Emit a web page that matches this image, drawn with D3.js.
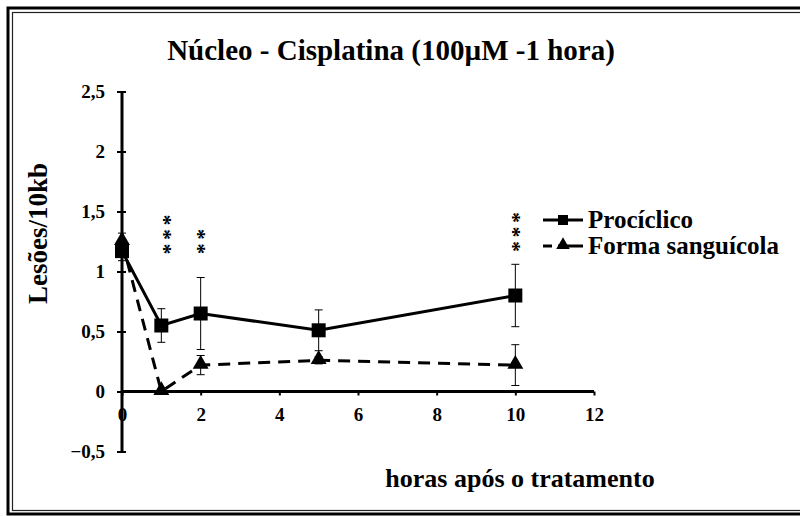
<!DOCTYPE html>
<html>
<head>
<meta charset="utf-8">
<script src="https://cdn.jsdelivr.net/npm/d3@7"></script>
<style>
  html, body { margin: 0; padding: 0; background: #fff; }
  svg { display: block; }
  text { font-family: "Liberation Serif", "Times New Roman", serif; font-weight: bold; fill: #000; }
</style>
</head>
<body>
<svg id="chart" width="800" height="516"></svg>
<script>
// Hours after treatment
const hours = [0, 1, 2, 5, 10];

// Procíclico: mean lesions/10kb and error
const prociclico = [1.17, 0.55, 0.65, 0.51, 0.80];
const prociclicoErr = [0.08, 0.14, 0.30, 0.17, 0.26];

// Forma sanguícola: mean lesions/10kb and error
const sanguicola = [1.25, 0.00, 0.22, 0.26, 0.22];
const sanguicolaErr = [0.07, 0.00, 0.08, 0.03, 0.17];

// Significance marks: time point, number of asterisks, centre of the stack (lesions/10kb)
const signifHours = [1, 2, 10];
const signifStars = [3, 2, 3];
const signifLevel = [1.308, 1.25, 1.329];

const xTicks = [0, 2, 4, 6, 8, 10, 12];
const yTicks = [-0.5, 0, 0.5, 1, 1.5, 2, 2.5];

const title = "Núcleo - Cisplatina (100µM -1 hora)";
const xLabel = "horas após o tratamento";
const yLabel = "Lesões/10kb";
const seriesNames = ["Procíclico", "Forma sanguícola"];

const FONT = '"Liberation Serif", "Times New Roman", serif';
const svg = d3.select("#chart");

// Frame: thick outer line with a thin inner line
svg.append("rect").attr("x", 8).attr("y", 8).attr("width", 820).attr("height", 506)
  .attr("fill", "none").attr("stroke", "#000").attr("stroke-width", 3);
svg.append("rect").attr("x", 12.5).attr("y", 12.5).attr("width", 810).attr("height", 498)
  .attr("fill", "none").attr("stroke", "#222").attr("stroke-width", 1.2);

const x = d3.scaleLinear().domain([0, 12]).range([122, 594]);
const y = d3.scaleLinear().domain([-0.5, 2.5]).range([451.5, 91.5]);

// Title
svg.append("text").attr("x", 391).attr("y", 60).attr("text-anchor", "middle")
  .style("font-size", "29px").text(title);

// Y axis
const yAxis = svg.append("g").attr("transform", `translate(${x(0)},0)`)
  .attr("font-family", FONT)
  .call(d3.axisLeft(y).tickValues(yTicks).tickSize(5)
    .tickFormat(d => d3.format(".1~f")(d).replace(".", ",")));
yAxis.select(".domain").attr("stroke-width", 3).attr("d", `M0,${y(2.5)}V${y(-0.5)}`);
yAxis.selectAll(".tick line").attr("x1", -5).attr("x2", 4).attr("stroke-width", 2);
yAxis.selectAll(".tick text").attr("x", -17).attr("dy", "0.32em")
  .style("font-size", "19px");

// X axis at y = 0
const xAxis = svg.append("g").attr("transform", `translate(0,${y(0)})`)
  .attr("font-family", FONT)
  .call(d3.axisBottom(x).tickValues(xTicks).tickSize(4).tickFormat(d3.format("d")));
xAxis.select(".domain").attr("stroke-width", 3).attr("d", `M${x(0)},0H${x(12)}`);
xAxis.selectAll(".tick line").attr("stroke-width", 2);
xAxis.selectAll(".tick text").attr("y", 16).attr("dy", "0.71em")
  .style("font-size", "19px");

// Axis titles
svg.append("text").attr("transform", `translate(47,233.5) rotate(-90)`)
  .attr("text-anchor", "middle").style("font-size", "27px").text(yLabel);
svg.append("text").attr("x", 520).attr("y", 487).attr("text-anchor", "middle")
  .style("font-size", "26px").text(xLabel);

const line = d3.line().x((d, i) => x(hours[i])).y(d => y(d));

// Error bars
function errorBars(values, errs) {
  const g = svg.append("g");
  values.forEach((v, i) => {
    const e = errs[i];
    if (e <= 0) return;
    const cx = x(hours[i]);
    g.append("line").attr("x1", cx).attr("x2", cx).attr("y1", y(v + e)).attr("y2", y(v - e))
      .attr("stroke", "#000").attr("stroke-width", 1);
    [v + e, v - e].forEach(t => g.append("line").attr("x1", cx - 4).attr("x2", cx + 4)
      .attr("y1", y(t)).attr("y2", y(t)).attr("stroke", "#000").attr("stroke-width", 1));
  });
}
errorBars(prociclico, prociclicoErr);
errorBars(sanguicola, sanguicolaErr);

// Series lines
svg.append("path").datum(sanguicola).attr("d", line).attr("fill", "none")
  .attr("stroke", "#000").attr("stroke-width", 3).attr("stroke-dasharray", "12,8");
svg.append("path").datum(prociclico).attr("d", line).attr("fill", "none")
  .attr("stroke", "#000").attr("stroke-width", 3);

// Markers
const sq = d3.symbol().type(d3.symbolSquare).size(196);
const tri = d3.symbol().type(d3.symbolTriangle).size(110);
svg.selectAll(".sq").data(prociclico).enter().append("path")
  .attr("d", sq).attr("transform", (d, i) => `translate(${x(hours[i])},${y(d)})`).attr("fill", "#000");
svg.selectAll(".tri").data(sanguicola).enter().append("path")
  .attr("d", tri).attr("transform", (d, i) => `translate(${x(hours[i])},${y(d) - 1})`).attr("fill", "#000");

// Significance asterisks: one column of stars per time point (text set vertically)
signifHours.forEach((h, i) => {
  const cx = x(h) + (h === 1 ? 5 : 0);
  const cy = y(signifLevel[i]) - 1.75;
  svg.append("text")
    .attr("transform", `translate(${cx},${cy}) rotate(-90)`)
    .attr("text-anchor", "middle").attr("dy", "0.49em")
    .style("font-size", "22px").style("letter-spacing", "3.5px")
    .text("*".repeat(signifStars[i]));
});

// Legend
const lg = svg.append("g").attr("transform", "translate(543,0)");
lg.append("line").attr("x1", 0).attr("x2", 40).attr("y1", 220).attr("y2", 220)
  .attr("stroke", "#000").attr("stroke-width", 3);
lg.append("path").attr("d", d3.symbol().type(d3.symbolSquare).size(100))
  .attr("transform", "translate(20,220)");
lg.append("line").attr("x1", 0).attr("x2", 40).attr("y1", 246).attr("y2", 246)
  .attr("stroke", "#000").attr("stroke-width", 3).attr("stroke-dasharray", "9,6,25");
lg.append("path").attr("d", d3.symbol().type(d3.symbolTriangle).size(80))
  .attr("transform", "translate(20,245)");
lg.append("text").attr("x", 45).attr("y", 228).style("font-size", "25px").text(seriesNames[0]);
lg.append("text").attr("x", 45).attr("y", 254).style("font-size", "25px").text(seriesNames[1]);
</script>
</body>
</html>
